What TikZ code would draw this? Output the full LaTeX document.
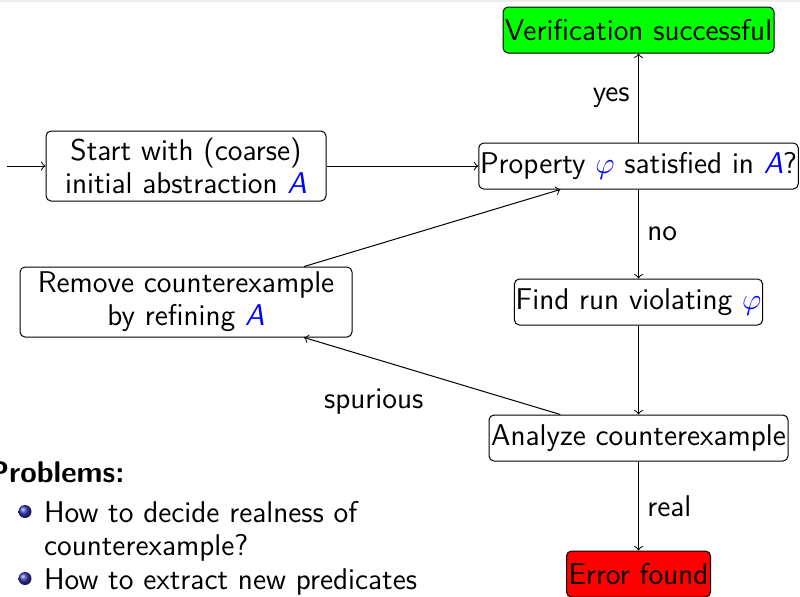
\documentclass[tikz,border=0pt]{standalone}
\usepackage{xcolor}
\definecolor{structblue}{RGB}{51,51,179}
\tikzset{
  every node/.style={font=\fontsize{12pt}{13.3pt}\selectfont\sffamily},
  stepbox/.style={draw, rounded corners=2pt, minimum height=18.4pt, inner xsep=0.5pt},
  twoline/.style={stepbox, align=center, minimum height=28pt, inner ysep=1pt},
  plain/.style={inner sep=0pt, anchor=base west},
  bulletball/.style={ball color=structblue},
}
\newcommand{\hl}[1]{\textcolor{blue}{#1}}
\begin{document}
\begin{tikzpicture}[x=1pt, y=1pt, >=to]
\useasboundingbox (0,0) rectangle (320,-238.4);
\fill[gray!15] (0,0) rectangle (320,-0.6);

% flow chart boxes
\node[stepbox, fill=green, minimum width=108.4pt] (ok) at (255.4,-12) {Verification successful};
\node[stepbox, minimum width=127.2pt] (prop) at (255.4,-66.4) {Property \hl{$\varphi$} satisfied in \hl{\textit{A}}?};
\node[twoline, minimum width=112pt] (start) at (74.4,-66.4) {Start with (coarse)\\initial abstraction \hl{\textit{A}}};
\node[twoline, minimum width=132.8pt] (refine) at (74.4,-120.8) {Remove counterexample\\by refining \hl{\textit{A}}};
\node[stepbox, minimum width=99.2pt] (find) at (255.4,-120.8) {Find run violating \hl{$\varphi$}};
\node[stepbox, minimum width=119.6pt] (analyze) at (255.4,-175.2) {Analyze counterexample};
\node[stepbox, fill=red, minimum width=57.6pt] (err) at (255.4,-229.6) {Error found};
\coordinate (entry) at (2.8,-66.4);

% connectors
\draw[->] (entry) -- (start);
\draw[->] (start) -- (prop);
\draw[->] (prop) -- node[left] {yes} (ok);
\draw[->] (prop) -- node[right] {no} (find);
\draw[->] (find) -- (analyze);
\draw[->] (analyze) -- node[right] {real} (err);
\draw[->] (analyze) -- node[below left, yshift=-1.5pt] {spurious} (refine);
\draw[->] (refine) -- (prop);

% list of open problems
\node[plain, font=\fontsize{12pt}{13.3pt}\selectfont\sffamily\bfseries] (probs) at (-5,-192.8) {Problems:};
\shade[bulletball] (10,-204.6) circle (2.6);
\node[plain] (itemA) at (17.4,-208.9) {How to decide realness of};
\node[plain] (itemB) at (17.4,-222.2) {counterexample?};
\shade[bulletball] (10,-231.4) circle (2.6);
\node[plain] (itemC) at (17.4,-235.6) {How to extract new predicates};
\end{tikzpicture}
\end{document}
